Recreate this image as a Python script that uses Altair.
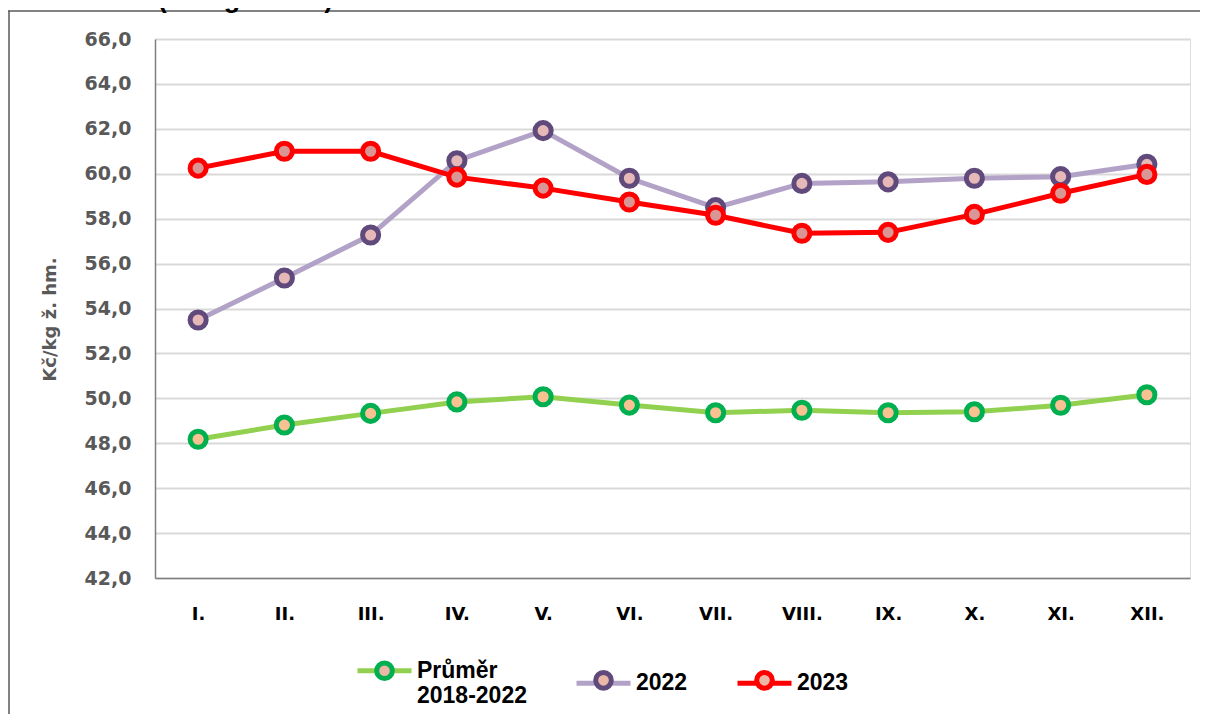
import altair as alt
import pandas as pd

# ---------------- data ----------------
months = ["I.", "II.", "III.", "IV.", "V.", "VI.", "VII.", "VIII.", "IX.", "X.", "XI.", "XII."]
series_names = ["Průměr 2018-2022", "2022", "2023"]
avg_2018_2022 = [48.18, 48.81, 49.33, 49.84, 50.07, 49.70, 49.36, 49.47, 49.36, 49.40, 49.69, 50.16]
vals_2022 = [53.49, 55.36, 57.27, 60.58, 61.92, 59.80, 58.49, 59.57, 59.64, 59.80, 59.87, 60.42]
vals_2023 = [60.25, 61.00, 61.00, 59.85, 59.36, 58.74, 58.15, 57.35, 57.39, 58.19, 59.13, 59.97]
y_ticks = [42, 44, 46, 48, 50, 52, 54, 56, 58, 60, 62, 64, 66]
chart_title = "2022 a 2023 (Kč/kg ž. hm.)"
y_title = "Kč/kg ž. hm."

line_colors = ["#92D050", "#B3A2C7", "#FF0000"]
marker_strokes = ["#00B050", "#604A7B", "#FF0000"]
marker_fills = ["#F8C191", "#E6B9B8", "#DA9694"]

rows = []
for name, vals in zip(series_names, [avg_2018_2022, vals_2022, vals_2023]):
    for m, v in zip(months, vals):
        rows.append({"month": m, "value": v, "series": name, "series_pt": "pt_" + name})
df = pd.DataFrame(rows)

FONT = "DejaVu Sans"
LFONT = "Liberation Sans"
W, H = 1035, 539

x_enc = alt.X("month:N", scale=alt.Scale(domain=months),
              axis=alt.Axis(title=None, labelAngle=0, labelFont=FONT, labelFontSize=18,
                            labelFontWeight="bold", labelColor="#000000", labelPadding=27,
                            ticks=False, grid=False, domainColor="#7F7F7F", domainWidth=1.5))
y_enc = alt.Y("value:Q", scale=alt.Scale(domain=[42, 66], nice=False, zero=False),
              axis=alt.Axis(values=y_ticks, title=y_title,
                            labelExpr="replace(format(datum.value, '.1f'), '.', ',')",
                            labelFont=FONT, labelFontSize=19, labelFontWeight="bold",
                            labelColor="#595959", labelPadding=24, ticks=False,
                            grid=True, gridColor="#D9D9D9", gridWidth=2,
                            domainColor="#7F7F7F", domainWidth=1.5,
                            titleFont=FONT, titleFontSize=18, titleFontWeight="bold",
                            titleColor="#595959", titlePadding=25, titleY=280))

LEG_X, LEG_Y = 200, 602
legend_common = dict(orient="none", legendX=LEG_X, legendY=LEG_Y, direction="horizontal",
                     title=None, padding=0, symbolSize=2916, symbolStrokeWidth=5,
                     labelFont=LFONT, labelFontSize=23, labelFontWeight="bold",
                     labelOffset=3, columnPadding=39, labelLimit=400, labelBaseline="middle")

label_expr_line = ("datum.label == 'Průměr 2018-2022' ? ['Průměr', '2018-2022'] : datum.label")
label_expr_pt = ("slice(datum.label, 3) == 'Průměr 2018-2022' ? ['Průměr', '2018-2022'] : slice(datum.label, 3)")

# circle symbol with zero-length end segments so its bounds equal the line symbol's
pt_symbol = "M-1,0L-1,0M1,0L1,0M-0.29,0A0.29,0.29,0,1,1,0.29,0A0.29,0.29,0,1,1,-0.29,0Z"
line_symbol = "M-1,0L1,0"

legend_line = alt.Legend(symbolType=line_symbol, labelColor="#000000", labelExpr=label_expr_line,
                         **legend_common)
legend_pt = alt.Legend(symbolType=pt_symbol, labelColor="transparent", symbolFillColor="#EBB7A6",
                       labelExpr=label_expr_pt, **legend_common)

color_scale = alt.Scale(domain=series_names, range=line_colors)
stroke_scale = alt.Scale(domain=["pt_" + s for s in series_names], range=marker_strokes)
fill_scale = alt.Scale(domain=series_names, range=marker_fills)

base = alt.Chart(df)
layers = []

one_row = alt.InlineData(values=[{"k": 1}])
frame_top = alt.Chart(one_row).mark_rect(fill="#595959", strokeWidth=0).encode(
    x=alt.value(-147), x2=alt.value(W + 10), y=alt.value(-28.75), y2=alt.value(-27.25))
frame_left = alt.Chart(one_row).mark_rule(stroke="#595959", strokeWidth=1.5).encode(
    x=alt.value(-146), y=alt.value(-28), y2=alt.value(H + 300))
title_txt = alt.Chart(one_row).mark_text(align="left", baseline="alphabetic", font=LFONT,
                                         fontSize=27, fontWeight="bold", color="#000000").encode(
    x=alt.value(-155), y=alt.value(-32), text=alt.value(chart_title))
layers += [frame_top, frame_left, title_txt]

for name in series_names:
    sub = base.transform_filter(alt.datum.series == name)
    ln = sub.mark_line(strokeWidth=5).encode(
        x=x_enc, y=y_enc,
        color=alt.Color("series:N", scale=color_scale, legend=legend_line))
    pt = sub.mark_point(shape="circle", filled=True, size=260, strokeWidth=5, opacity=1).encode(
        x=x_enc, y=y_enc,
        stroke=alt.Stroke("series_pt:N", scale=stroke_scale, legend=legend_pt),
        fill=alt.Fill("series:N", scale=fill_scale, legend=None))
    layers += [ln, pt]

chart = alt.layer(*layers).properties(
    width=W, height=H,
    autosize=alt.AutoSizeParams(type="none"),
    padding={"left": 147, "top": 31, "right": 11, "bottom": 136},
).configure_view(stroke=None).configure(background="white")

chart.save("out.html", embed_options={"renderer": "svg", "actions": False})
